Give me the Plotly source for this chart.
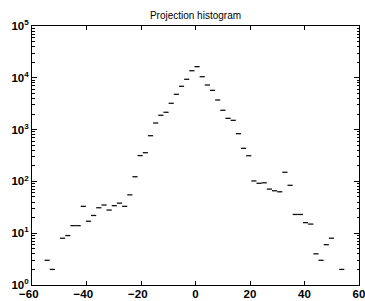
import plotly.graph_objects as go

# Bin centers (x)
bin_centers = [-54.45, -52.55, -50.66, -48.76, -46.86, -44.97, -43.07, -41.17, -39.27, -37.38,
               -35.48, -33.58, -31.69, -29.79, -27.89, -26.00, -24.10, -22.20, -20.30, -18.41,
               -16.51, -14.61, -12.72, -10.82, -8.92, -7.03, -5.13, -3.23, -1.33, 0.56,
               2.46, 4.36, 6.25, 8.15, 10.05, 11.95, 13.84, 15.74, 17.64, 19.53,
               21.43, 23.33, 25.22, 27.12, 29.02, 30.92, 32.81, 34.71, 36.61, 38.50,
               40.40, 42.30, 44.19, 46.09, 47.99, 49.89, 51.78, 53.68]
counts = [3, 2, 0, 8, 9, 14, 14, 33, 17, 22,
          31, 35, 28, 34, 38, 33, 55, 123, 315, 358,
          762, 1340, 1890, 2160, 3220, 4800, 6850, 9360, 13700, 16400,
          10500, 7260, 5730, 3730, 2360, 1650, 1510, 834, 435, 313,
          102, 92, 94, 71, 66, 63, 150, 84, 23, 23,
          16, 15, 4, 3, 6, 8, 0, 2]
bin_width = 1.897

x_ticks = [-60, -40, -20, 0, 20, 40, 60]
y_ticks = [1, 10, 100, 1000, 10000, 100000]
y_tick_text = ["10<sup>0</sup>", "10<sup>1</sup>", "10<sup>2</sup>",
               "10<sup>3</sup>", "10<sup>4</sup>", "10<sup>5</sup>"]


def x_label(t):
    s = str(t).replace("-", "\u2212")
    return s + "\u00a0\u00a0" if t < 0 else s


xs, ys = [], []
for c, v in zip(bin_centers, counts):
    if v > 0:
        xs += [c - bin_width / 2, c + bin_width / 2, None]
        ys += [v, v, None]

fig = go.Figure()
fig.add_trace(go.Scatter(x=xs, y=ys, mode="lines",
                         line=dict(color="#111111", width=1.3),
                         hoverinfo="skip", showlegend=False))

fig.update_layout(
    width=365, height=301,
    margin=dict(l=32, r=6, t=26, b=16, autoexpand=False),
    paper_bgcolor="white", plot_bgcolor="white",
    font=dict(family="Liberation Sans, Arial, sans-serif", color="black"),
    title=dict(text="Projection histogram", x=0.5355, xanchor="center",
               y=1 - 15.5 / 301, yanchor="middle",
               font=dict(size=10, color="black"), automargin=False),
    showlegend=False,
)
fig.update_xaxes(
    range=[-60, 60], tickvals=x_ticks, ticktext=[x_label(t) for t in x_ticks],
    ticks="inside", ticklen=4, tickcolor="black", showline=True, linecolor="black",
    linewidth=1, mirror="ticks", showgrid=False, zeroline=False, automargin=False,
    ticklabelstandoff=-2, ticklabeloverflow="allow",
    tickfont=dict(size=11.5, weight="bold", color="black"),
)
fig.update_yaxes(
    type="log", range=[0, 5], tickvals=y_ticks, ticktext=y_tick_text,
    ticks="inside", ticklen=5, tickcolor="black", showline=True, linecolor="black",
    linewidth=1, mirror="ticks", showgrid=False, zeroline=False, automargin=False,
    ticklabeloverflow="allow",
    tickfont=dict(size=11.5, weight="bold", color="black"),
    minor=dict(ticks="inside", ticklen=2.5, tickcolor="black", dtick="D1", showgrid=False),
)

fig.write_html("out.html", config={"displayModeBar": False},
               post_script="document.body.style.margin='0px';document.body.style.overflow='hidden';")
